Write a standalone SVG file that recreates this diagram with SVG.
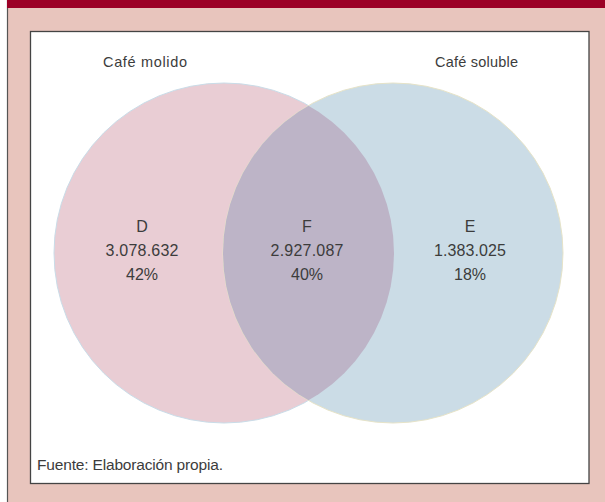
<svg xmlns="http://www.w3.org/2000/svg" width="605" height="502" viewBox="0 0 605 502">
<style>
.t{font-family:"Liberation Sans","DejaVu Sans",sans-serif;fill:#3c3c3c;}
.lbl{font-size:14.5px;}
.val{font-size:16px;text-anchor:middle;}
</style>
<defs>
<clipPath id="clipL"><circle cx="224" cy="253" r="170"/></clipPath>
</defs>
<rect x="0" y="0" width="605" height="502" fill="#ffffff"/>
<rect x="7.5" y="0" width="597.5" height="502" fill="#E8C5BD"/>
<line x1="7.5" y1="0" x2="7.5" y2="502" stroke="#555" stroke-width="1.2"/>
<rect x="7" y="0" width="598" height="8" fill="#9C0026"/>
<rect x="30.5" y="31.5" width="558.5" height="452" fill="#ffffff" stroke="#444" stroke-width="1.3"/>
<g id="circle-left">
<circle cx="224" cy="253" r="170" fill="#E9CDD4" stroke="#C9DCE8" stroke-width="1"/>
</g>
<g id="circle-right">
<circle cx="393" cy="253" r="170" fill="#CBDCE6" stroke="#E6E3C8" stroke-width="1"/>
</g>
<g id="intersection">
<circle cx="393" cy="253" r="170" fill="#BDB4C7" clip-path="url(#clipL)"/>
</g>
<g id="connectors"></g>
<g id="label-molido"><text class="t lbl" x="103" y="67" textLength="84">Café molido</text></g>
<g id="label-soluble"><text class="t lbl" x="435" y="67" textLength="83">Café soluble</text></g>
<g id="node-D">
<text class="t val" x="142" y="232">D</text>
<text class="t val" x="142" y="256" textLength="73">3.078.632</text>
<text class="t val" x="142" y="280">42%</text>
</g>
<g id="node-F">
<text class="t val" x="307" y="232">F</text>
<text class="t val" x="307" y="256" textLength="73">2.927.087</text>
<text class="t val" x="307" y="280">40%</text>
</g>
<g id="node-E">
<text class="t val" x="470" y="232">E</text>
<text class="t val" x="470" y="256" textLength="72">1.383.025</text>
<text class="t val" x="470" y="280">18%</text>
</g>
<g id="source"><text class="t" x="37" y="470" font-size="15.5" textLength="186">Fuente: Elaboración propia.</text></g>
</svg>
